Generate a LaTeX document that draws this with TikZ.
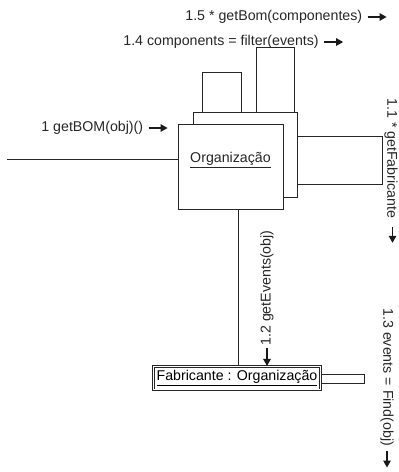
\documentclass[tikz,border=0pt]{standalone}
\usepackage{fontspec}
\setmainfont{Liberation Sans}
\usetikzlibrary{arrows.meta}
\begin{document}
\begin{tikzpicture}[x=1pt,y=-1pt,line width=0.8pt,
  font=\fontsize{14.2}{16}\selectfont,
  ink/.style={draw=black!85},
  msg/.style={draw=black!90,line width=1.3pt,-{Triangle[length=7pt,width=7.5pt]}},
  lbl/.style={inner sep=0pt,text=black!85},
  obj/.style={draw=black!85,fill=white,inner sep=0pt},
  fabobj/.style={draw=black!85,double=white,double distance=1.3pt,line width=0.6pt,fill=white,inner sep=0pt}]
\useasboundingbox (0,0) rectangle (399,472);

% back object (multi-object)
\node[obj,minimum width=104pt,minimum height=85pt] (back) at (245,154.5) {};
% self links
\draw[ink] ([xshift=10pt]back.north west) -- ++(0,-39) -- ++(39,0) -- ++(0,39);
\draw[ink] ([xshift=64pt]back.north west) -- ++(0,-64) -- ++(38,0) -- ++(0,64);
\draw[ink] ([yshift=-25pt]back.north east) -- ++(85,0) -- ++(0,48) -- ++(-85,0);

% front object
\node[obj,minimum width=105pt,minimum height=85pt] (org) at (230.5,166.5) {};
\node[lbl] (orgtxt) at (230.5,160) {\underline{Organização}};

% lower object
\node[fabobj,minimum width=167pt,minimum height=23.5pt] (fab) at (237,378) {\underline{Fabricante : Organização}};
\draw[ink] ([yshift=4pt]fab.east) -- ++(44,0) -- ++(0,9) -- ++(-44,0);

% links
\coordinate (lin) at (7,159.5);
\draw[ink] (lin) -- (lin -| org.west);
\draw[ink] ([xshift=7.5pt]org.south) -- ([xshift=7.5pt]org.south |- fab.north);

% messages
\node[lbl,anchor=west] (m15) at (185,17) {1.5 * getBom(componentes)};
\draw[msg] ([xshift=5pt]m15.east) -- ++(19,0);
\node[lbl,anchor=west] (m14) at (123,42) {1.4 components = filter(events)};
\draw[msg] ([xshift=5pt]m14.east) -- ++(19,0);
\node[lbl,anchor=west] (m1) at (41,128) {1 getBOM(obj)()};
\draw[msg] ([xshift=5pt]m1.east) -- ++(19,0);

\node[lbl,rotate=-90,anchor=west] (m11) at (391,98) {1.1 * getFabricante};
\draw[msg] ([xshift=1.5pt]m11.east) ++(0,8) -- ++(0,16);
\node[lbl,rotate=-90,anchor=west] (m13) at (387,308) {1.3 events = Find(obj)};
\draw[msg] (m13.east) ++(0,4) -- ++(0,17);
\node[lbl,rotate=90,anchor=west] (m12) at (267,346) {1.2 getEvents(obj)};
\draw[msg] ([yshift=-2pt]m12.west) -- (m12.west |- fab.north);
\end{tikzpicture}
\end{document}
